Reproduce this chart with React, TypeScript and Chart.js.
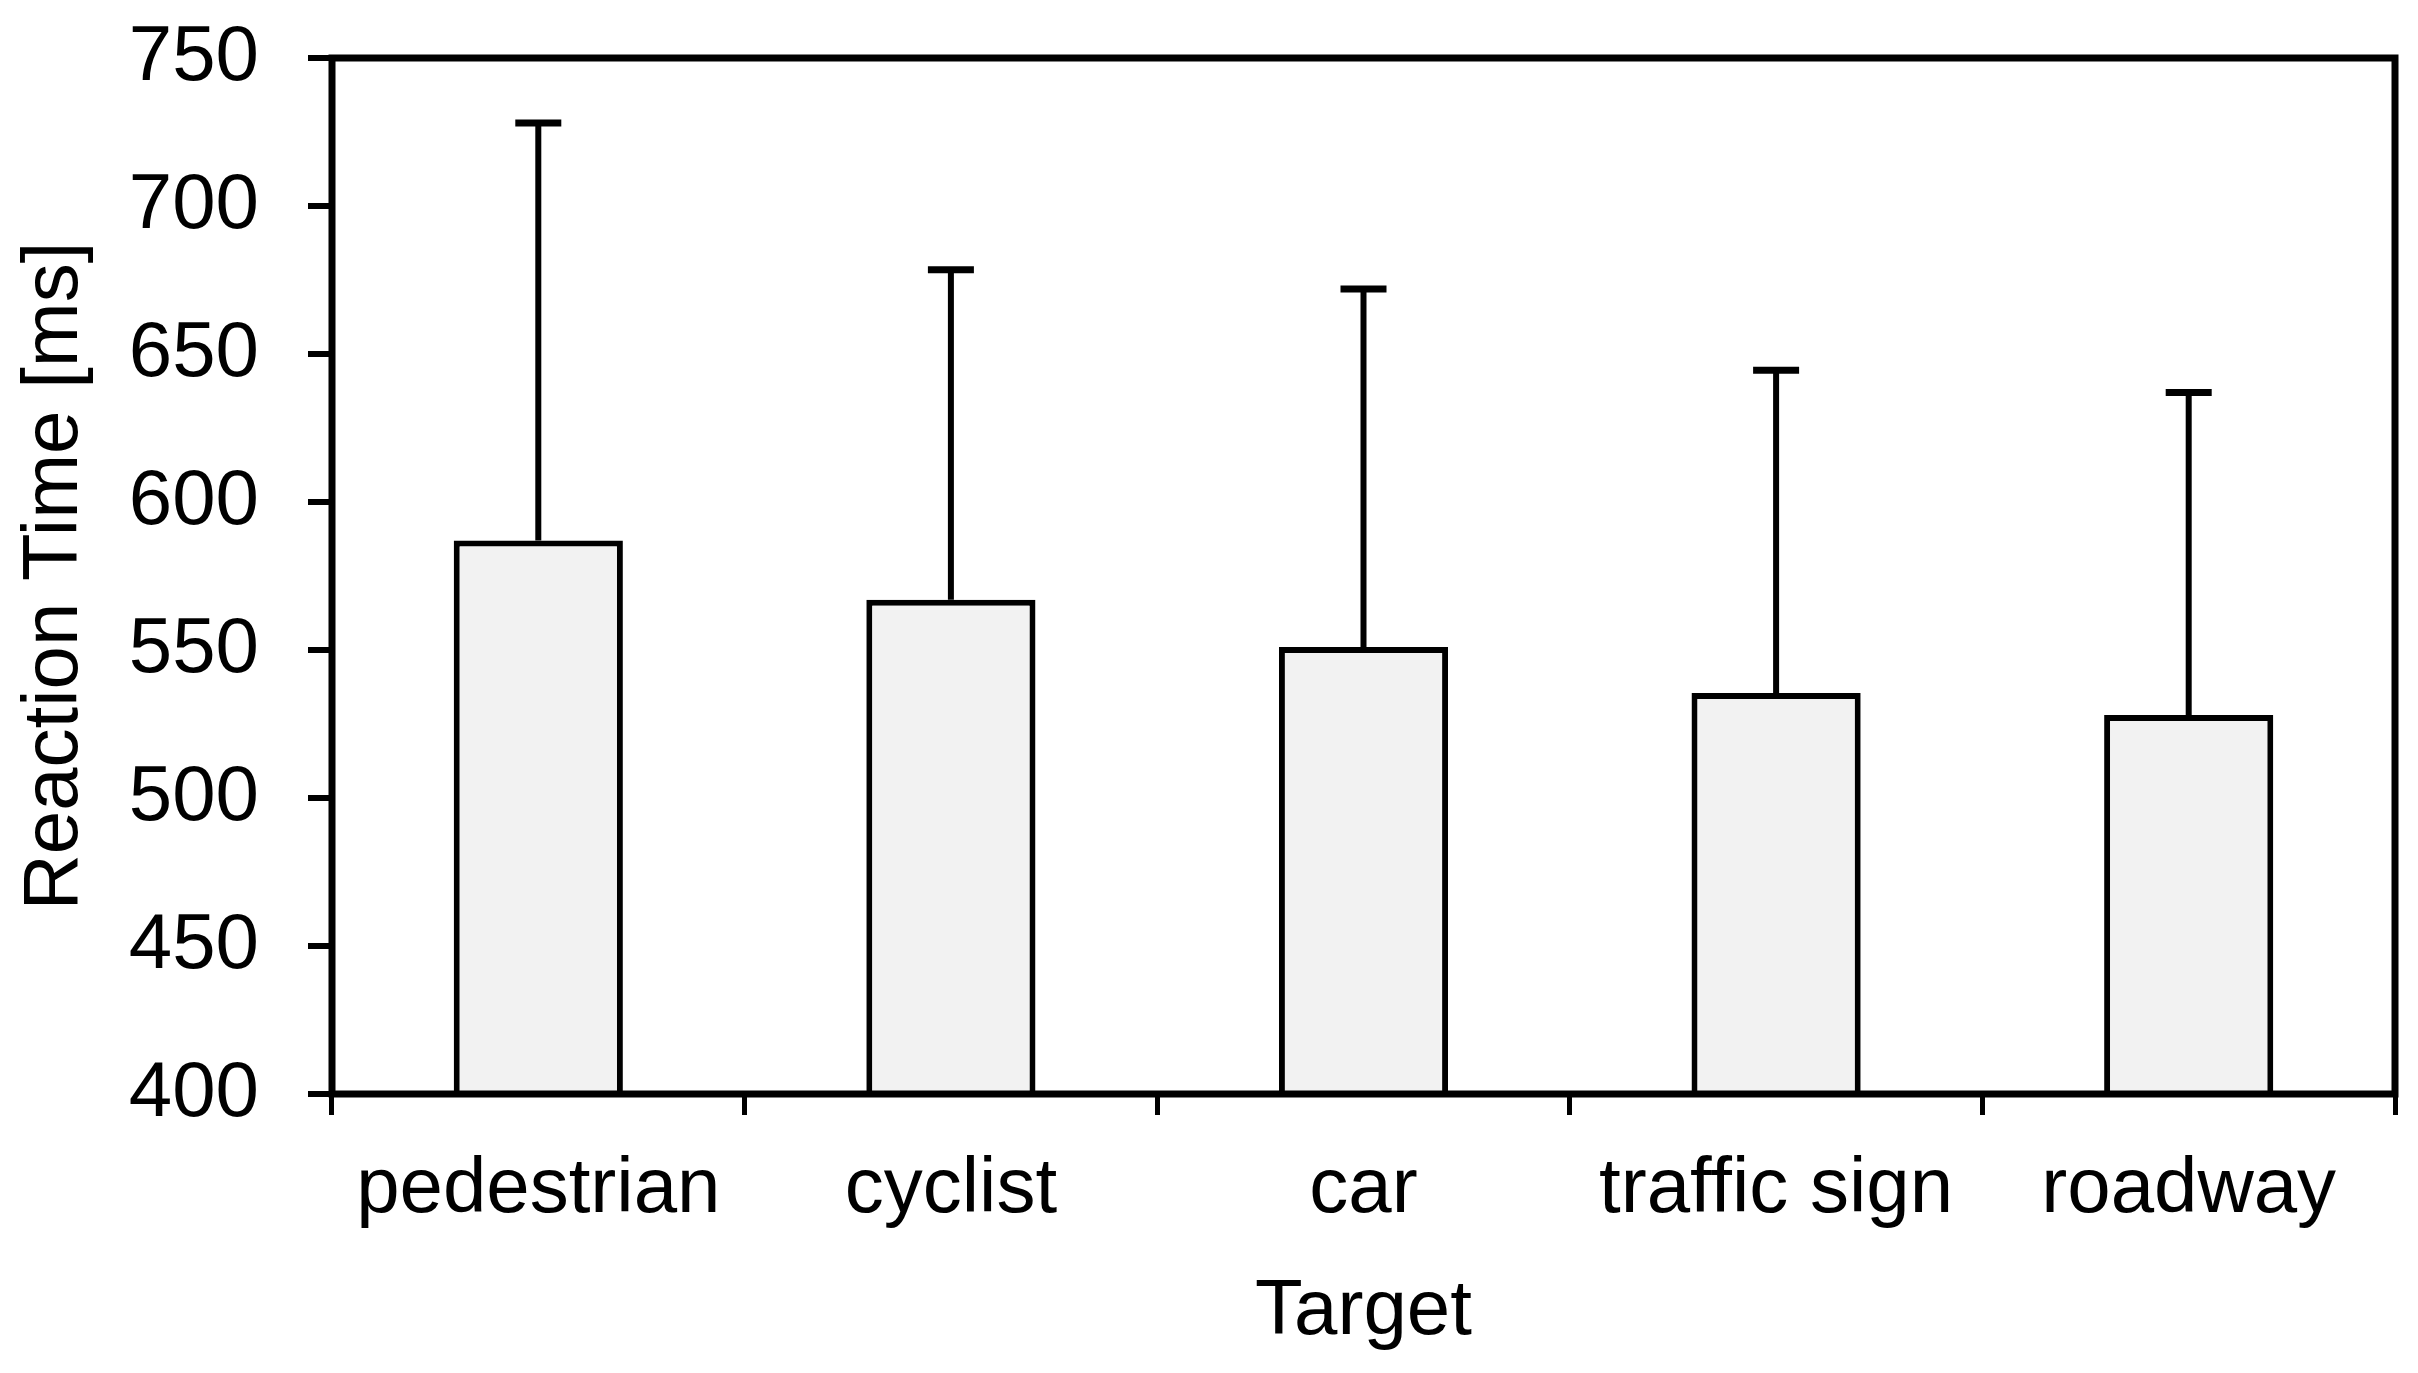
import { useEffect, useRef } from "react"
import { Chart, registerables } from "chart.js"

Chart.register(...registerables)

const targets = ["pedestrian", "cyclist", "car", "traffic sign", "roadway"]
const meanRT = [587, 567, 551, 535.5, 528]
const sdRT = [141, 111.5, 121, 109, 109]
const yTicks = [400, 450, 500, 550, 600, 650, 700, 750]

const W = 2418
const H = 1373
const FONT = "'Liberation Sans', Arial, sans-serif"

// upward-only error bars on top of each bar
const errorBars = {
  id: "errorBars",
  afterDatasetsDraw(chart: any) {
    const { ctx, scales } = chart
    const meta = chart.getDatasetMeta(0)
    ctx.save()
    ctx.strokeStyle = "#000"
    meta.data.forEach((bar: any, i: number) => {
      const x = bar.x
      const y0 = scales.y.getPixelForValue(meanRT[i])
      const y1 = scales.y.getPixelForValue(meanRT[i] + sdRT[i])
      ctx.lineWidth = 6
      ctx.beginPath()
      ctx.moveTo(x, y0)
      ctx.lineTo(x, y1)
      ctx.stroke()
      ctx.lineWidth = 7
      ctx.beginPath()
      ctx.moveTo(x - 23, y1)
      ctx.lineTo(x + 23, y1)
      ctx.stroke()
    })
    ctx.restore()
  },
}

// box around the plot area
const frame = {
  id: "frame",
  afterDatasetsDraw(chart: any) {
    const { ctx, chartArea: a } = chart
    ctx.save()
    ctx.strokeStyle = "#000"
    ctx.lineWidth = 7
    ctx.strokeRect(a.left, a.top, a.right - a.left, a.bottom - a.top)
    ctx.restore()
  },
}

export default function App() {
  const ref = useRef<HTMLCanvasElement>(null)

  useEffect(() => {
    document.body.style.margin = "0"
    if (!ref.current) return

    const chart = new Chart(ref.current, {
      type: "bar",
      data: {
        labels: targets,
        datasets: [
          {
            data: meanRT,
            backgroundColor: "#f2f2f2",
            borderColor: "#000",
            borderWidth: 6,
            borderSkipped: "start",
            barPercentage: 0.41,
            categoryPercentage: 1,
          },
        ],
      },
      options: {
        responsive: false,
        animation: false,
        devicePixelRatio: 1,
        layout: { padding: { top: 58, right: 23, left: 0, bottom: 0 } },
        plugins: { legend: { display: false }, tooltip: { enabled: false } },
        scales: {
          x: {
            grid: {
              offset: true,
              drawOnChartArea: false,
              drawTicks: true,
              tickLength: 21,
              lineWidth: 5,
              color: "#000",
            },
            border: { display: false },
            ticks: {
              color: "#000",
              padding: 29,
              font: { family: FONT, size: 78 },
              maxRotation: 0,
            },
            title: {
              display: true,
              text: "Target",
              color: "#000",
              font: { family: FONT, size: 78 },
              padding: { top: 0, bottom: 14 },
            },
            afterFit: (s: any) => {
              s.height = H - 1094
              s.paddingLeft = 0
              s.paddingRight = 0
            },
          },
          y: {
            min: 400,
            max: 750,
            afterBuildTicks: (s: any) => {
              s.ticks = yTicks.map((v) => ({ value: v }))
            },
            grid: {
              drawOnChartArea: false,
              drawTicks: true,
              tickLength: 24,
              lineWidth: 6,
              color: "#000",
            },
            border: { display: false },
            ticks: {
              color: "#000",
              padding: 49,
              font: { family: FONT, size: 78 },
            },
            title: {
              display: true,
              text: "Reaction Time [ms]",
              color: "#000",
              font: { family: FONT, size: 78 },
              padding: { top: 9, bottom: 0 },
            },
            afterFit: (s: any) => {
              s.width = 332
              s.paddingTop = 0
              s.paddingBottom = 0
            },
          },
        },
      },
      plugins: [errorBars, frame],
    })

    return () => chart.destroy()
  }, [])

  return (
    <div style={{ position: "fixed", left: 0, top: 0, width: W, height: H, background: "#fff" }}>
      <canvas ref={ref} width={W} height={H} style={{ width: W, height: H, display: "block" }} />
    </div>
  )
}
